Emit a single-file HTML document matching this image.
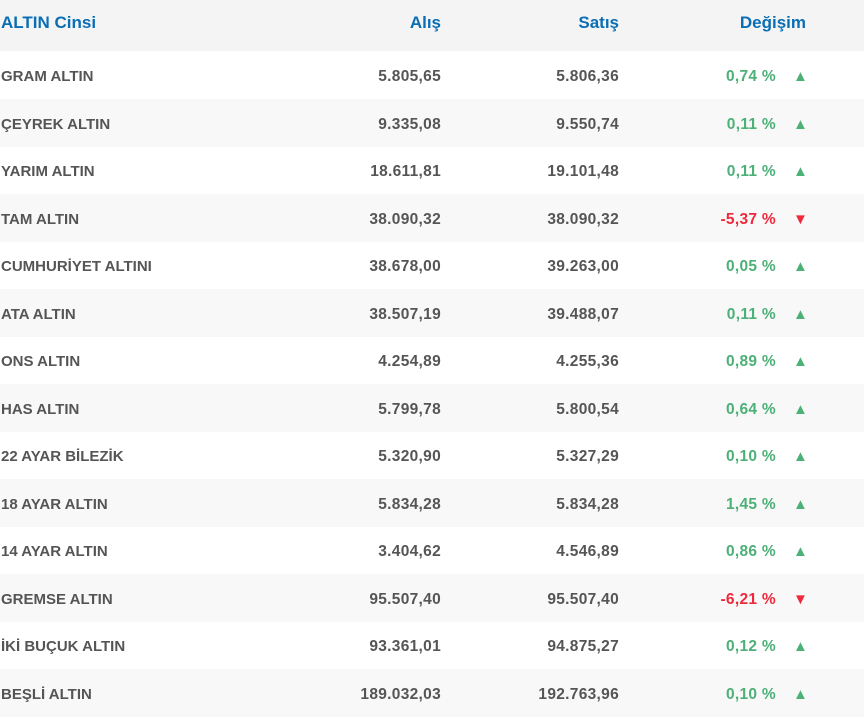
<!DOCTYPE html>
<html><head><meta charset="utf-8"><style>
body{margin:0;width:864px;height:712px;overflow:hidden;background:#fff;font-family:"Liberation Sans",Arial,sans-serif;}
.r{position:absolute;left:0;width:864px;height:48px;}
.r div{position:absolute;top:0;line-height:48px;white-space:nowrap;}
.h{background:#f4f4f4;height:51px;top:0}
.h div{line-height:46px;color:#0a6eb4;font-weight:bold;font-size:17px}
.g{background:#f8f8f8}
.n{top:2px!important;left:1px;color:#555;font-weight:bold;font-size:15px}
.a,.s,.p{top:2px!important;font-weight:bold;font-size:15.5px;text-align:right;letter-spacing:0.3px}
.a{right:423px;color:#555}
.s{right:245px;color:#555}
.p{right:88px}
.t{top:2px!important;left:793px;font-size:15px}
.up{color:#4cb077}.dn{color:#f0283c}
</style></head><body>
<div class="r h"><div style="left:1px">ALTIN Cinsi</div><div style="right:423px">Alış</div><div style="right:245px">Satış</div><div style="right:58px">Değişim</div></div>
<div class="r" style="top:51px"><div class="n">GRAM ALTIN</div><div class="a">5.805,65</div><div class="s">5.806,36</div><div class="p up">0,74 %</div><div class="t up">▲</div></div>
<div class="r g" style="top:99px"><div class="n">ÇEYREK ALTIN</div><div class="a">9.335,08</div><div class="s">9.550,74</div><div class="p up">0,11 %</div><div class="t up">▲</div></div>
<div class="r" style="top:146px"><div class="n">YARIM ALTIN</div><div class="a">18.611,81</div><div class="s">19.101,48</div><div class="p up">0,11 %</div><div class="t up">▲</div></div>
<div class="r g" style="top:194px"><div class="n">TAM ALTIN</div><div class="a">38.090,32</div><div class="s">38.090,32</div><div class="p dn">-5,37 %</div><div class="t dn">▼</div></div>
<div class="r" style="top:241px"><div class="n">CUMHURİYET ALTINI</div><div class="a">38.678,00</div><div class="s">39.263,00</div><div class="p up">0,05 %</div><div class="t up">▲</div></div>
<div class="r g" style="top:289px"><div class="n">ATA ALTIN</div><div class="a">38.507,19</div><div class="s">39.488,07</div><div class="p up">0,11 %</div><div class="t up">▲</div></div>
<div class="r" style="top:336px"><div class="n">ONS ALTIN</div><div class="a">4.254,89</div><div class="s">4.255,36</div><div class="p up">0,89 %</div><div class="t up">▲</div></div>
<div class="r g" style="top:384px"><div class="n">HAS ALTIN</div><div class="a">5.799,78</div><div class="s">5.800,54</div><div class="p up">0,64 %</div><div class="t up">▲</div></div>
<div class="r" style="top:431px"><div class="n">22 AYAR BİLEZİK</div><div class="a">5.320,90</div><div class="s">5.327,29</div><div class="p up">0,10 %</div><div class="t up">▲</div></div>
<div class="r g" style="top:479px"><div class="n">18 AYAR ALTIN</div><div class="a">5.834,28</div><div class="s">5.834,28</div><div class="p up">1,45 %</div><div class="t up">▲</div></div>
<div class="r" style="top:526px"><div class="n">14 AYAR ALTIN</div><div class="a">3.404,62</div><div class="s">4.546,89</div><div class="p up">0,86 %</div><div class="t up">▲</div></div>
<div class="r g" style="top:574px"><div class="n">GREMSE ALTIN</div><div class="a">95.507,40</div><div class="s">95.507,40</div><div class="p dn">-6,21 %</div><div class="t dn">▼</div></div>
<div class="r" style="top:621px"><div class="n">İKİ BUÇUK ALTIN</div><div class="a">93.361,01</div><div class="s">94.875,27</div><div class="p up">0,12 %</div><div class="t up">▲</div></div>
<div class="r g" style="top:669px"><div class="n">BEŞLİ ALTIN</div><div class="a">189.032,03</div><div class="s">192.763,96</div><div class="p up">0,10 %</div><div class="t up">▲</div></div>
</body></html>
